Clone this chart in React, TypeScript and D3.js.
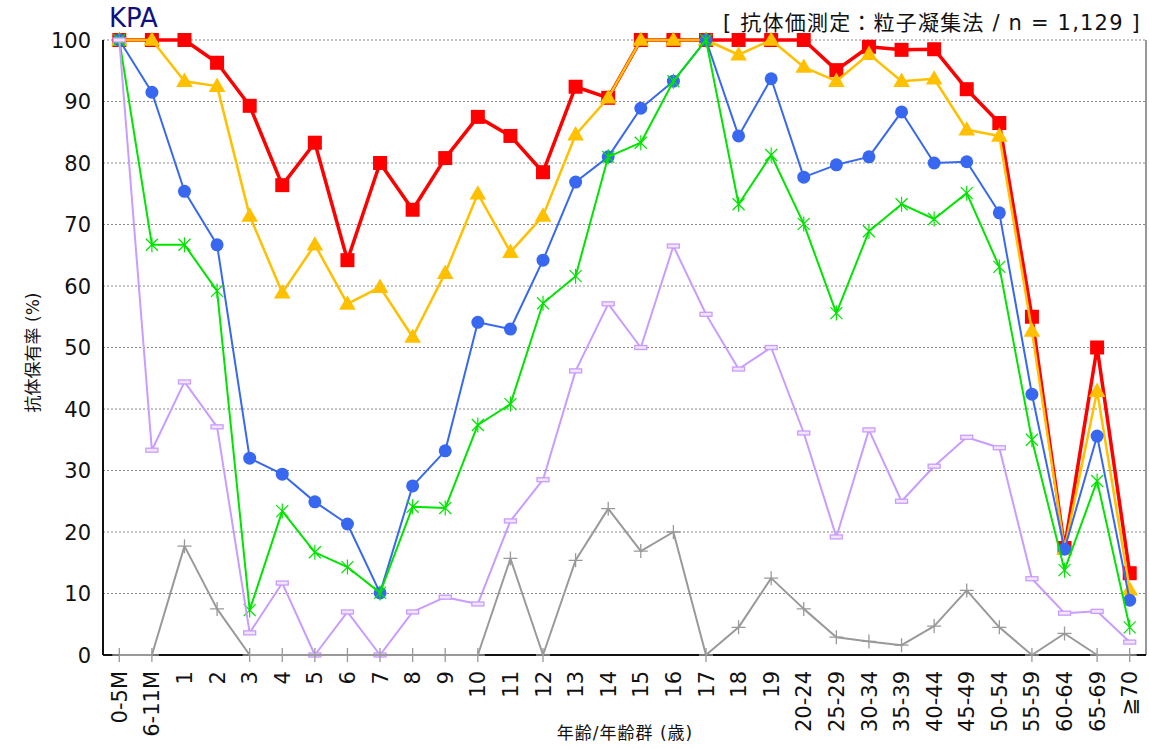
import React from "react";
import * as d3 from "d3";

const ages = [
  "0-5M", "6-11M", "1", "2", "3", "4", "5", "6", "7", "8", "9", "10", "11", "12", "13", "14",
  "15", "16", "17", "18", "19", "20-24", "25-29", "30-34", "35-39", "40-44", "45-49", "50-54",
  "55-59", "60-64", "65-69", "≧70",
];

const yTicks = [0, 10, 20, 30, 40, 50, 60, 70, 80, 90, 100];

// antibody positive rate (%) per titer threshold
const red = [100, 100, 100, 96.3, 89.3, 76.4, 83.3, 64.2, 80, 72.4, 80.8, 87.5, 84.4, 78.5, 92.4, 90.6,
  100, 100, 100, 100, 100, 100, 95.1, 98.9, 98.4, 98.5, 92, 86.5, 55, 17.4, 50, 13.3];
const yellow = [100, 100, 93.3, 92.5, 71.4, 58.9, 66.7, 57.1, 59.8, 51.7, 62.1, 75, 65.5, 71.4, 84.6, 90.6,
  100, 100, 100, 97.6, 100, 95.6, 93.3, 97.7, 93.3, 93.7, 85.4, 84.4, 52.7, 17.2, 42.9, 10.6];
const blue = [100, 91.5, 75.4, 66.7, 32, 29.4, 24.9, 21.3, 10.1, 27.5, 33.2, 54.1, 53, 64.2, 76.9, 81,
  88.9, 93.3, 100, 84.4, 93.7, 77.7, 79.7, 81, 88.3, 80, 80.2, 71.9, 42.4, 17.2, 35.6, 8.9];
const green = [100, 66.7, 66.7, 59.2, 7.3, 23.4, 16.7, 14.3, 10.1, 24.1, 23.9, 37.4, 40.8, 57.2, 61.6, 81,
  83.3, 93.3, 100, 73.3, 81.3, 70.1, 55.6, 68.9, 73.3, 70.9, 75.1, 63.1, 35, 13.8, 28.3, 4.5];
const lavender = [100, 33.3, 44.4, 37.1, 3.6, 11.7, 0, 7, 0, 7, 9.4, 8.3, 21.8, 28.5, 46.2, 57.1,
  50, 66.5, 55.4, 46.5, 50, 36.1, 19.2, 36.6, 25, 30.7, 35.4, 33.7, 12.4, 6.8, 7.1, 2.1];
const gray = [0, 0, 17.7, 7.5, 0, 0, 0, 0, 0, 0, 0, 0, 15.7, 0, 15.4, 23.8,
  16.9, 20, 0, 4.5, 12.5, 7.5, 2.9, 2.2, 1.6, 4.7, 10.5, 4.5, 0, 3.5, 0, 0];

const series = [
  { key: "red", values: red, color: "#ff0000", width: 3.5, marker: "square" },
  { key: "yellow", values: yellow, color: "#ffc000", width: 2.5, marker: "triangle" },
  { key: "blue", values: blue, color: "#3868f0", width: 2, marker: "circle" },
  { key: "green", values: green, color: "#00e400", width: 2, marker: "star" },
  { key: "lavender", values: lavender, color: "#c99cff", width: 2, marker: "bar" },
  { key: "gray", values: gray, color: "#999999", width: 2, marker: "plus" },
];

const W = 1149;
const H = 749;
const left = 103;
const right = 1146;
const top = 40;
const bottom = 655;

// Verdana-ish latin first, CJK falls through to Noto
const font = "'DejaVu Sans', Verdana, 'Noto Sans CJK JP', sans-serif";

const Marker = ({ type, color }: { type: string; color: string }) => {
  if (type === "square") return <rect x={-7} y={-7} width={14} height={14} fill={color} />;
  if (type === "triangle") return <path d={d3.symbol(d3.symbolTriangle, 120)() || ""} fill={color} transform="translate(0,1)" />;
  if (type === "circle") return <circle r={6.5} fill={color} />;
  if (type === "star")
    return <path d="M-6,-6L6,6M-6,6L6,-6M0,-7.5L0,7.5" stroke={color} strokeWidth={1.2} fill="none" />;
  if (type === "bar") return <rect x={-6} y={-2} width={12} height={4} fill="#f0e4ff" stroke={color} strokeWidth={1.3} />;
  return <path d="M-7,0H7M0,-7V7" stroke={color} strokeWidth={1.3} fill="none" />;
};

export default function App() {
  const x = d3.scalePoint<string>().domain(ages).range([left, right]).padding(0.5);
  const y = d3.scaleLinear().domain([0, 100]).range([bottom, top]);

  const line = d3
    .line<number>()
    .x((_, i) => x(ages[i]) as number)
    .y((d) => y(d));

  return (
    <div style={{ position: "fixed", left: 0, top: 0 }}>
      <svg width={W} height={H} style={{ display: "block", background: "#fff" }}>
        {/* grid */}
        {yTicks.filter((t) => t > 0).map((t) => (
          <line key={t} x1={left} x2={right} y1={y(t)} y2={y(t)} stroke="#888" strokeWidth={1} strokeDasharray="2,2" />
        ))}
        <line x1={right} x2={right} y1={top} y2={bottom} stroke="#555" strokeWidth={1.2} />
        <line x1={left} x2={right} y1={bottom} y2={bottom} stroke="#111" strokeWidth={2} />
        <line x1={left} x2={left} y1={top} y2={bottom} stroke="#111" strokeWidth={2} />

        {/* y tick labels */}
        {yTicks.map((t) => (
          <text key={t} x={91} y={y(t)} dy="0.36em" textAnchor="end" fontSize={21} fontFamily={font} fill="#111">
            {t}
          </text>
        ))}

        {/* x tick labels */}
        {ages.map((a) => (
          <text
            key={a}
            transform={`translate(${x(a)},671) rotate(-90)`}
            dy="0.36em"
            textAnchor="end"
            fontSize={21}
            fontFamily={font}
            fill="#111"
          >
            {a}
          </text>
        ))}

        {/* series */}
        {series.map((s) => (
          <g key={s.key}>
            <path d={line(s.values) || ""} fill="none" stroke={s.color} strokeWidth={s.width} strokeLinejoin="round" />
            {s.values.map((v, i) => (
              <g key={i} transform={`translate(${x(ages[i])},${y(v)})`}>
                <Marker type={s.marker} color={s.color} />
              </g>
            ))}
          </g>
        ))}

        {/* titles */}
        <text x={109} y={27} fontSize={26} fontFamily={font} fill="#101080">
          KPA
        </text>
        <text x={1141} y={30} textAnchor="end" fontSize={21} letterSpacing={1.2} fontFamily={font} fill="#111">
          [ 抗体価測定：粒子凝集法 / n = 1,129 ]
        </text>
        <text
          transform={`translate(33,${(top + bottom) / 2 + 5}) rotate(-90)`}
          textAnchor="middle"
          dy="0.35em"
          fontSize={17}
          fontFamily={font}
          fill="#111"
        >
          抗体保有率 (%)
        </text>
        <text x={625} y={739} textAnchor="middle" fontSize={17} letterSpacing={1} fontFamily={font} fill="#111">
          年齢/年齢群 (歳)
        </text>
      </svg>
    </div>
  );
}
